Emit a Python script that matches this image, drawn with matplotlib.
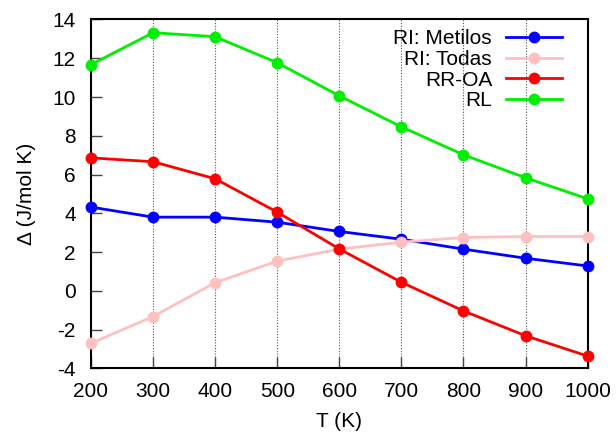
import matplotlib
matplotlib.use("Agg")
import matplotlib.pyplot as plt

T = [200, 300, 400, 500, 600, 700, 800, 900, 1000]
ri_metilos = [4.32, 3.80, 3.80, 3.54, 3.06, 2.66, 2.15, 1.68, 1.28]
ri_todas = [-2.71, -1.33, 0.42, 1.53, 2.15, 2.51, 2.75, 2.80, 2.80]
rr_oa = [6.86, 6.66, 5.78, 4.06, 2.16, 0.44, -1.04, -2.32, -3.37]
rl = [11.67, 13.32, 13.11, 11.77, 10.06, 8.46, 7.02, 5.83, 4.75]

labels = ["RI: Metilos", "RI: Todas", "RR-OA", "RL"]
colors = ["#0000ff", "#ffc0c0", "#ff0000", "#00ee00"]
xticks = [200, 300, 400, 500, 600, 700, 800, 900, 1000]
yticks = [-4, -2, 0, 2, 4, 6, 8, 10, 12, 14]

plt.rcParams["font.family"] = ["Liberation Sans", "DejaVu Sans"]
plt.rcParams["font.size"] = 15
plt.rcParams["axes.unicode_minus"] = False

fig = plt.figure(figsize=(6.16, 4.33), dpi=100)
ax = fig.add_axes([0.1477, 0.1494, 0.8063, 0.8056])

for y, lab, c in zip([ri_metilos, ri_todas, rr_oa, rl], labels, colors):
    ax.plot(T, y, color=c, lw=2, marker="o", ms=7.5, label=lab,
            zorder=3, clip_on=False)

ax.set_xlim(200, 1000)
ax.set_ylim(-4, 14)
ax.set_xticks(xticks)
ax.set_yticks(yticks)
ax.xaxis.grid(True, linestyle=(0, (1, 1.5)), color="#555555", lw=0.8)
ax.tick_params(direction="in", length=8, width=1, top=False, right=False,
               color="#444444")
ax.tick_params(axis="x", pad=10)
ax.tick_params(axis="y", pad=11)
for s in ax.spines.values():
    s.set_linewidth(1.5)

ax.set_xlabel("T (K)", labelpad=8)
ax.set_ylabel("Δ (J/mol K)", labelpad=12)

leg = ax.legend(loc="upper right", bbox_to_anchor=(0.948, 0.972),
                frameon=False, markerfirst=False, borderpad=0,
                borderaxespad=0, handlelength=2.7, labelspacing=0.08,
                handletextpad=0.65, fontsize=15)
for t in leg.get_texts():
    t.set_ha("right")
leg._legend_box.align = "right"

fig.savefig("out.png", dpi=100)
